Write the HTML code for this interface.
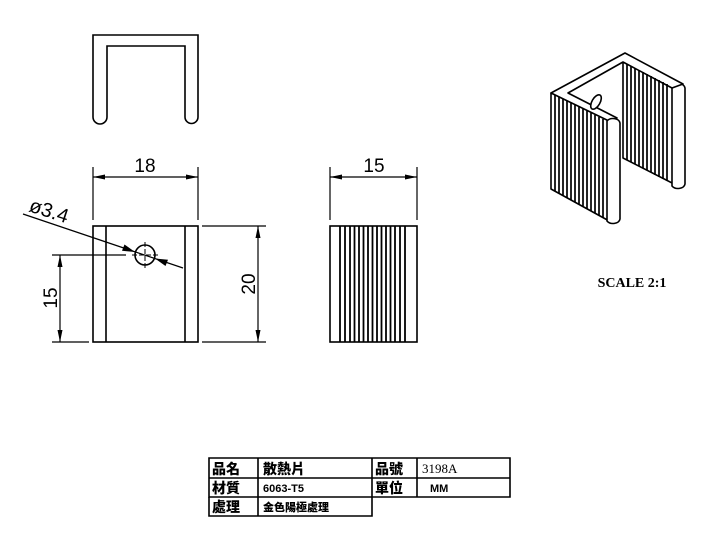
<!DOCTYPE html>
<html><head><meta charset="utf-8"><style>
html,body{margin:0;padding:0;background:#fff;}
svg{display:block;}
.c{font-family:"Liberation Serif","Noto Sans CJK TC","Noto Sans CJK SC",sans-serif;font-weight:900;}
</style></head><body>
<svg width="720" height="533" viewBox="0 0 720 533" xmlns="http://www.w3.org/2000/svg">
<g fill="none" stroke="#000" stroke-width="1.6">
<path d="M93,35 H198 V117 A6.5,6.5 0 0 1 185,117 V46 H107 V117 A7,7 0 0 1 93,117 Z"/>
<rect x="93" y="226" width="105" height="116"/>
<line x1="106" y1="226" x2="106" y2="342"/>
<line x1="185" y1="226" x2="185" y2="342"/>
<circle cx="145" cy="255" r="10"/>
<line x1="132" y1="255" x2="158" y2="255" stroke-width="1" stroke-dasharray="5,2"/>
<line x1="145" y1="242" x2="145" y2="268" stroke-width="1" stroke-dasharray="5,2"/>
<line x1="93" y1="167" x2="93" y2="220" stroke-width="1.2"/>
<line x1="198" y1="167" x2="198" y2="220" stroke-width="1.2"/>
<line x1="93" y1="177" x2="198" y2="177" stroke-width="1.2"/>
<path d="M93,177 L105,174.5 L105,179.5 Z" fill="#000" stroke="none"/>
<path d="M198,177 L186,174.5 L186,179.5 Z" fill="#000" stroke="none"/>
<line x1="202" y1="226" x2="266" y2="226" stroke-width="1.2"/>
<line x1="202" y1="342" x2="266" y2="342" stroke-width="1.2"/>
<line x1="258" y1="226" x2="258" y2="342" stroke-width="1.2"/>
<path d="M258,226 L255.5,238 L260.5,238 Z M258,342 L255.5,330 L260.5,330 Z" fill="#000" stroke="none"/>
<line x1="52" y1="255" x2="126" y2="255" stroke-width="1.2"/>
<line x1="52" y1="342" x2="89" y2="342" stroke-width="1.2"/>
<line x1="60" y1="255" x2="60" y2="342" stroke-width="1.2"/>
<path d="M60,255 L57.5,267 L62.5,267 Z M60,342 L57.5,330 L62.5,330 Z" fill="#000" stroke="none"/>
<line x1="23" y1="214" x2="183" y2="268" stroke-width="1.2"/>
<path d="M135,252 L122,250.8 L124.5,244.5 Z M155,258.5 L168,259.7 L165.5,266 Z" fill="#000" stroke="none"/>
<line x1="330" y1="167" x2="330" y2="220" stroke-width="1.2"/>
<line x1="417" y1="167" x2="417" y2="220" stroke-width="1.2"/>
<line x1="330" y1="177" x2="417" y2="177" stroke-width="1.2"/>
<path d="M330,177 L342,174.5 L342,179.5 Z M417,177 L405,174.5 L405,179.5 Z" fill="#000" stroke="none"/>
<rect x="330" y="226" width="87" height="116"/>
</g>
<g stroke="#000" stroke-width="1.8">
<line x1="340" y1="226" x2="340" y2="342"/><line x1="345" y1="226" x2="345" y2="342"/>
<line x1="350" y1="226" x2="350" y2="342"/><line x1="354.5" y1="226" x2="354.5" y2="342"/>
<line x1="359" y1="226" x2="359" y2="342"/><line x1="363.5" y1="226" x2="363.5" y2="342"/>
<line x1="368" y1="226" x2="368" y2="342"/><line x1="372.5" y1="226" x2="372.5" y2="342"/>
<line x1="377" y1="226" x2="377" y2="342"/><line x1="381.5" y1="226" x2="381.5" y2="342"/>
<line x1="386" y1="226" x2="386" y2="342"/><line x1="390.5" y1="226" x2="390.5" y2="342"/>
<line x1="395" y1="226" x2="395" y2="342"/><line x1="400" y1="226" x2="400" y2="342"/>
<line x1="405" y1="226" x2="405" y2="342"/>
</g>
<g font-family="Liberation Sans, sans-serif" font-size="19" fill="#000">
<text x="145" y="172" text-anchor="middle">18</text>
<text x="374" y="172" text-anchor="middle">15</text>
<text transform="translate(255,284) rotate(-90)" text-anchor="middle">20</text>
<text transform="translate(57,298) rotate(-90)" text-anchor="middle">15</text>
<text transform="translate(28,211) rotate(18)" font-size="20">ø3.4</text>
</g>
<g fill="#fff" stroke="#000" stroke-width="1.6" stroke-linejoin="round">
<path d="M623,62 L678,88 L678,186 L623,158 Z"/>
<path d="M672,86 A7,5 0 0 1 685,88 L685,184 A7,5 0 0 1 672,186 Z"/>
<path d="M551,93 L625,53 L683,84 L672,88 L623,62 L568,93 L617,118 L607,122 Z"/>
<ellipse cx="596" cy="102" rx="4" ry="8" transform="rotate(30 596 102)"/>
<path d="M551,93 L611,122 L611,222 L551,189 Z"/>
<path d="M607,121 A7,5 0 0 1 620,123 L620,219 A7,5 0 0 1 607,221 Z"/>
</g>
<g stroke="#000" stroke-width="1.7">
<line x1="555" y1="95" x2="555" y2="191"/><line x1="559" y1="97" x2="559" y2="193"/>
<line x1="563" y1="99" x2="563" y2="195"/><line x1="567" y1="101" x2="567" y2="198"/>
<line x1="571" y1="103" x2="571" y2="200"/><line x1="575" y1="105" x2="575" y2="202"/>
<line x1="579" y1="107" x2="579" y2="204"/><line x1="583" y1="109" x2="583" y2="206"/>
<line x1="587" y1="111" x2="587" y2="209"/><line x1="591" y1="113" x2="591" y2="211"/>
<line x1="595" y1="115" x2="595" y2="213"/><line x1="599" y1="117" x2="599" y2="215"/>
<line x1="603" y1="119" x2="603" y2="218"/>
<line x1="627" y1="64" x2="627" y2="160"/><line x1="631" y1="66" x2="631" y2="162"/>
<line x1="635" y1="68" x2="635" y2="164"/><line x1="639" y1="70" x2="639" y2="166"/>
<line x1="643" y1="72" x2="643" y2="168"/><line x1="647" y1="74" x2="647" y2="170"/>
<line x1="651" y1="76" x2="651" y2="172"/><line x1="655" y1="78" x2="655" y2="175"/>
<line x1="659" y1="80" x2="659" y2="177"/><line x1="663" y1="82" x2="663" y2="179"/>
<line x1="667" y1="84" x2="667" y2="181"/>
</g>
<text x="632" y="287" text-anchor="middle" font-family="Liberation Serif, serif" font-weight="bold" font-size="14">SCALE 2:1</text>
<g fill="none" stroke="#000" stroke-width="1.6">
<path d="M209,458 H510 V497 H209 Z"/>
<path d="M209,478 H510 M209,497 V516 H372 V458 M258,458 V516 M417,458 V497"/>
</g>
<g class="c" fill="#000" font-size="14">
<text x="212" y="474">品名</text>
<text x="263" y="474">散熱片</text>
<text x="375" y="474">品號</text>
<text x="422" y="473" font-weight="normal" font-size="13" font-family="Liberation Serif, serif">3198A</text>
<text x="212" y="493">材質</text>
<text x="263" y="492" font-size="11" font-family="Liberation Sans, sans-serif" font-weight="bold">6063-T5</text>
<text x="375" y="493">單位</text>
<text x="430" y="492" font-size="11" font-family="Liberation Sans, sans-serif" font-weight="bold">MM</text>
<text x="212" y="512">處理</text>
<text x="263" y="511" font-size="11">金色陽極處理</text>
</g>
</svg>
</body></html>
